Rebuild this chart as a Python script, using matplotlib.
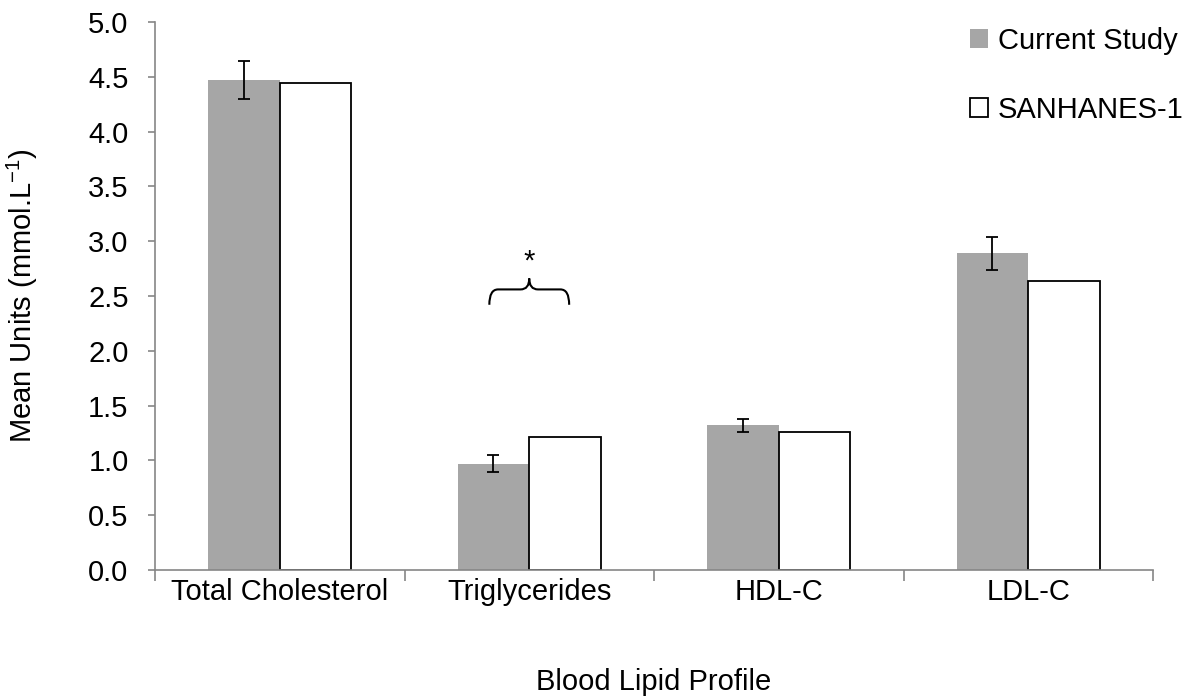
import matplotlib
matplotlib.use("Agg")
import matplotlib.pyplot as plt
import numpy as np
from matplotlib.path import Path
from matplotlib.patches import PathPatch

plt.rcParams['font.family'] = ['Liberation Sans', 'DejaVu Sans']

categories = ["Total Cholesterol", "Triglycerides", "HDL-C", "LDL-C"]
current_study = [4.47, 0.97, 1.32, 2.89]
current_err = [0.17, 0.08, 0.06, 0.15]
sanhanes = [4.44, 1.21, 1.26, 2.64]
yticks = [0.0, 0.5, 1.0, 1.5, 2.0, 2.5, 3.0, 3.5, 4.0, 4.5, 5.0]

FS = 21

fig = plt.figure(figsize=(11.86, 6.98), dpi=100)
ax = fig.add_axes([155/1186, 128/698, (1153-155)/1186, (570-22)/698])

x = np.arange(len(categories))
w = 0.287
ax.bar(x - w/2, current_study, w, color='#a6a6a6', edgecolor='none', label='Current Study', zorder=2)
ax.errorbar(x - w/2, current_study, yerr=current_err, fmt='none', ecolor='black',
            elinewidth=1.3, capsize=4.5, capthick=1.3, zorder=3)
ax.bar(x + w/2, sanhanes, w, color='white', edgecolor='black', linewidth=1.3, label='SANHANES-1', zorder=2)

ax.set_xlim(-0.5, len(categories) - 0.5)
ax.set_ylim(0, 5.0)
ax.set_yticks(yticks)
ax.set_yticklabels([f"{v:.1f}" for v in yticks], fontsize=FS)
ax.set_xticks(x)
ax.set_xticklabels(categories, fontsize=FS)
ax.tick_params(axis='x', length=0, pad=6)
ax.set_xticks(np.arange(len(categories) + 1) - 0.5, minor=True)
ax.tick_params(axis='x', which='minor', length=8, color='#868686', width=1.2)
ax.tick_params(axis='y', length=5, color='#868686', width=1.2, pad=14)

for s in ['top', 'right']:
    ax.spines[s].set_visible(False)
for s in ['left', 'bottom']:
    ax.spines[s].set_color('#868686')
    ax.spines[s].set_linewidth(1.2)

fig.text(22/1186, 1 - 296/698, "Mean Units (mmol.L$^{\\mathregular{-1}}$)", fontsize=FS,
         rotation=90, ha='center', va='center')
fig.text(654/1186, 1 - 682/698, "Blood Lipid Profile", fontsize=FS, ha='center', va='center')

# brace over triglycerides
cx = 1.0
half = 0.16
left = cx - half
right = cx + half
yb, ym, yt = 2.42, 2.56, 2.66
r = 0.035
verts = [(left, yb), (left, ym), (left + r, ym), (cx - r, ym), (cx, ym), (cx, yt),
         (cx, ym), (cx + r, ym), (right - r, ym), (right, ym), (right, yb)]
codes = [Path.MOVETO, Path.CURVE3, Path.CURVE3, Path.LINETO, Path.CURVE3, Path.CURVE3,
         Path.CURVE3, Path.CURVE3, Path.LINETO, Path.CURVE3, Path.CURVE3]
ax.add_patch(PathPatch(Path(verts, codes), facecolor='none', edgecolor='black', lw=1.5, zorder=4))
ax.text(cx, 2.81, "*", ha='center', va='center', fontsize=FS)

leg = ax.legend(loc='upper left', frameon=False, fontsize=FS,
                handlelength=0.6, handleheight=0.6, handletextpad=0.35, labelspacing=1.4,
                borderaxespad=0, borderpad=0)
leg.set_bbox_to_anchor((970/1186, 1 - 27/698), transform=fig.transFigure)

fig.savefig("out.png", dpi=100)
